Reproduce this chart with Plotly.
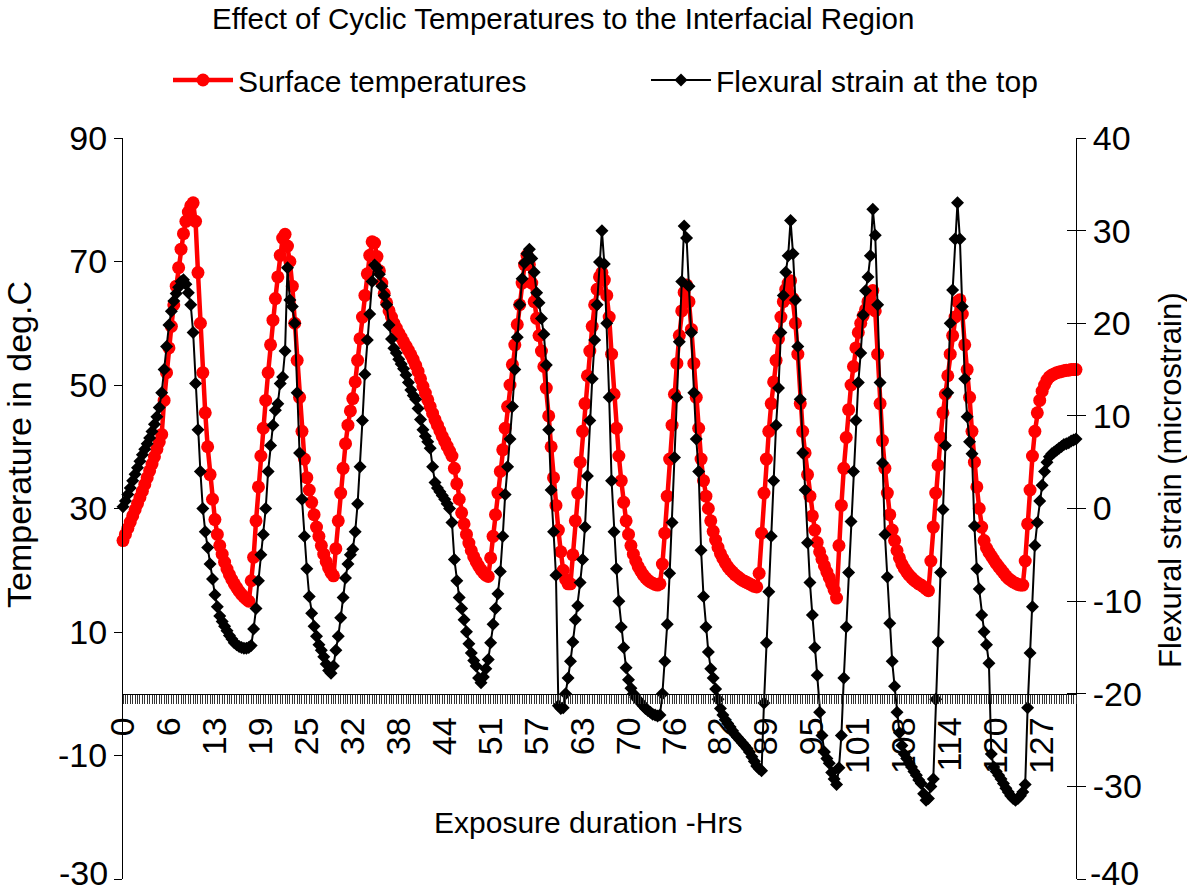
import plotly.graph_objects as go

# Surface temperature (deg C), one reading every 20 minutes
temperature = [
    24.8, 25.8, 26.8, 27.8, 28.8, 29.8, 30.8, 31.8, 32.8, 33.9,
    35.0, 36.1, 37.2, 38.4, 39.6, 40.8, 42.0, 47.5, 52.0, 56.0,
    59.5, 63.0, 66.0, 69.0, 72.0, 74.5, 76.5, 78.0, 79.0, 79.5,
    76.5, 68.2, 60.0, 52.0, 45.5, 40.0, 35.5, 31.5, 28.2, 25.8,
    24.0, 22.6, 21.3, 20.2, 19.3, 18.5, 17.8, 17.2, 16.6, 16.1,
    15.7, 15.3, 15.0, 18.3, 22.1, 28.0, 33.5, 38.5, 43.0, 47.5,
    52.0, 56.5, 60.5, 64.0, 67.5, 71.0, 73.8, 74.4, 72.5, 70.0,
    66.0, 60.0, 54.0, 48.0, 42.5, 38.0, 35.0, 33.0, 31.0, 29.0,
    27.0, 25.5, 24.0, 22.6, 21.4, 20.4, 19.6, 19.1, 23.5, 28.0,
    32.5, 36.5, 40.5, 43.5, 45.8, 47.8, 50.5, 54.0, 57.5, 61.0,
    64.5, 68.0, 71.0, 73.2, 73.0, 70.8, 68.5, 66.5, 64.8, 63.3,
    62.0, 61.0, 60.0, 59.2, 58.4, 57.7, 57.0, 56.3, 55.6, 54.9,
    54.1, 53.2, 52.2, 51.0, 49.8, 48.7, 47.6, 46.5, 45.4, 44.4,
    43.5, 42.6, 41.7, 40.9, 40.1, 39.3, 38.5, 36.5, 34.0, 31.5,
    29.3, 27.5, 25.8, 24.4, 23.2, 22.2, 21.4, 20.7, 20.1, 19.6,
    19.2, 19.0, 22.0, 25.5, 29.0, 32.5, 36.0, 39.5, 43.0, 46.5,
    50.0, 53.3, 56.5, 59.8, 63.0, 66.5, 69.5, 71.0, 69.5, 66.5,
    63.5, 60.8, 58.0, 55.5, 53.0, 49.5, 45.0, 40.0, 35.0, 30.5,
    26.5, 23.0, 20.0, 18.5, 17.8, 17.8, 22.5, 28.0, 32.5, 37.5,
    42.5, 47.0, 51.5, 55.5, 59.5, 63.0, 65.5, 67.5, 68.2, 67.0,
    64.5, 61.0, 55.0, 48.5, 43.0, 38.5, 34.5, 31.0, 28.0, 25.8,
    24.0, 22.6, 21.5, 20.6, 19.9, 19.3, 18.8, 18.4, 18.1, 17.9,
    17.7, 17.6, 17.8, 21.0, 26.0, 32.0, 38.0, 43.5, 48.5, 53.5,
    58.0, 62.0, 65.0, 66.2, 63.5, 59.0, 53.5, 48.0, 43.0, 38.0,
    34.5, 32.0, 30.0, 28.0, 26.3, 24.9, 23.7, 22.7, 21.9, 21.2,
    20.6, 20.1, 19.7, 19.3, 19.0, 18.7, 18.4, 18.2, 18.0, 17.8,
    17.6, 17.4, 17.3, 19.5, 26.0, 32.5, 38.0, 42.5, 47.0, 50.5,
    54.0, 57.5, 61.0, 63.5, 65.5, 66.5, 66.9, 64.0, 60.0, 55.0,
    47.0, 42.5, 39.0, 35.5, 32.0, 28.8, 26.5, 24.5, 23.0, 21.8,
    20.7, 19.7, 18.8, 17.8, 16.8, 15.5, 24.0, 30.5, 36.5, 41.5,
    46.0, 50.0, 53.0, 56.0, 58.5, 60.0, 61.2, 62.2, 63.5, 64.8,
    65.3, 62.0, 55.0, 47.0, 41.0, 36.5, 32.5, 29.0, 26.5, 24.8,
    23.2, 22.0, 21.0, 20.3, 19.7, 19.2, 18.8, 18.4, 18.1, 17.8,
    17.6, 17.3, 17.0, 16.7, 21.5, 27.0, 32.5, 37.0, 41.5, 45.5,
    48.5, 51.5, 55.0, 58.0, 61.0, 63.5, 63.8, 61.5, 56.5, 52.5,
    48.0, 42.5, 37.5, 33.5, 30.0, 27.0, 24.8, 23.6, 22.9, 22.3,
    21.7, 21.1, 20.6, 20.1, 19.6, 19.1, 18.7, 18.4, 18.1, 17.9,
    17.7, 17.6, 17.6, 21.5, 27.5, 33.0, 38.5, 42.5, 45.5, 47.5,
    49.0, 50.0, 50.8, 51.3, 51.6, 51.8, 52.0, 52.1, 52.2, 52.3,
    52.4, 52.4, 52.5, 52.5, 52.5,
]

# Flexural strain at the top (microstrain), same readings
strain = [
    0.2, 0.8, 1.5, 2.2, 3.0, 3.7, 4.4, 5.1, 5.8, 6.4,
    7.0, 7.6, 8.3, 9.1, 9.9, 10.9, 12.5, 15.0, 17.5, 19.8,
    21.3, 22.4, 23.2, 23.9, 24.5, 24.7, 24.2, 23.3, 22.0, 19.0,
    13.5, 8.5, 4.0, 0.0, -2.5, -4.2, -6.0, -7.6, -9.3, -10.6,
    -11.6, -12.2, -12.7, -13.2, -13.7, -14.1, -14.5, -14.7, -14.9, -15.0,
    -15.1, -15.1, -15.0, -14.8, -13.0, -10.8, -7.8, -5.0, -2.8, 0.0,
    4.0, 6.8, 9.0, 10.6, 11.3, 13.5, 14.2, 17.0, 26.0, 22.5,
    21.8, 20.0, 12.5, 6.0, 1.0, -3.0, -6.5, -9.5, -11.3, -12.7,
    -13.8, -14.7, -15.3, -16.0, -16.8, -17.5, -17.8, -17.0, -15.3, -13.8,
    -11.8, -9.6, -7.5, -6.0, -5.0, -4.4, -2.5, 0.5, 4.5, 9.5,
    14.5, 18.2, 21.0, 24.5, 26.3, 26.0, 25.3, 24.0, 23.0, 22.0,
    19.8, 18.3, 17.3, 16.8, 16.1, 15.6, 15.1, 14.4, 13.6, 12.8,
    12.2, 11.8, 10.8, 9.6, 8.5, 7.8, 7.2, 6.5, 4.5, 2.8,
    2.2, 1.8, 1.4, 1.0, 0.5, 0.0, -1.5, -5.5, -7.8, -9.6,
    -10.8, -12.0, -13.3, -14.6, -15.6, -16.4, -17.0, -18.3, -18.8, -18.2,
    -17.3, -16.3, -14.5, -12.5, -10.8, -9.2, -6.8, -3.0, 1.5, 4.5,
    7.5, 11.0, 15.0, 18.5, 22.0, 24.8, 26.5, 27.5, 28.0, 27.0,
    25.5, 23.3, 22.2, 20.5, 18.8, 15.5, 8.5, 2.0, -2.5, -7.2,
    -21.3, -21.6, -21.5, -20.0, -18.3, -16.5, -14.4, -12.0, -10.5, -8.0,
    -5.5, -2.0, 3.5, 9.5, 14.0, 18.2, 22.0, 26.6, 30.0, 26.4,
    20.0, 12.0, 3.0, -2.5, -6.5, -10.0, -12.8, -15.0, -17.2, -18.5,
    -19.4, -20.0, -20.4, -20.7, -21.0, -21.3, -21.6, -21.8, -22.0, -22.2,
    -22.3, -22.4, -22.3, -20.0, -16.5, -12.5, -7.0, -1.5, 5.5, 12.0,
    18.0, 24.5, 30.5, 29.2, 24.0, 19.0, 12.5, 7.5, 4.0, -4.5,
    -9.5, -12.8, -15.5, -17.3, -18.3, -19.5, -20.6, -21.6, -22.3, -22.8,
    -23.2, -23.6, -24.0, -24.4, -24.7, -25.0, -25.3, -25.6, -25.9, -26.3,
    -26.8, -27.3, -27.8, -28.1, -28.3, -21.0, -14.5, -9.0, -3.0, 3.0,
    9.0, 13.0, 19.0, 23.0, 25.5, 27.3, 31.1, 27.5, 22.5, 17.5,
    11.8, 6.0, 2.0, -3.7, -8.0, -11.5, -15.0, -18.0, -22.0, -24.5,
    -26.3, -27.0, -27.5, -28.5, -29.2, -29.8, -28.0, -24.5, -18.3, -12.8,
    -6.9, -1.4, 4.0, 9.5, 13.6, 16.8, 20.9, 23.5, 25.0, 27.3,
    32.3, 29.5, 22.0, 13.6, 4.9, -2.8, -7.4, -12.4, -16.5, -19.2,
    -22.0, -24.2, -25.6, -26.5, -27.0, -27.5, -27.9, -28.4, -28.8, -29.3,
    -29.7, -30.8, -31.5, -31.3, -30.0, -29.2, -20.6, -14.4, -6.9, -0.1,
    6.8, 12.5, 20.0, 23.6, 29.1, 33.0, 29.1, 21.8, 14.0, 9.9,
    7.2, 5.9, -1.9, -6.5, -8.7, -11.5, -13.3, -14.7, -16.7, -26.5,
    -27.9, -28.4, -28.8, -29.2, -29.7, -30.2, -30.6, -31.0, -31.3, -31.5,
    -31.3, -31.0, -30.6, -29.8, -21.5, -15.6, -10.6, -4.0, -1.5, 0.8,
    2.5, 4.0, 5.0, 5.6, 5.9, 6.1, 6.3, 6.5, 6.7, 6.9,
    7.0, 7.1, 7.3, 7.4, 7.5,
]

# Category labels (hours), written on every 19th reading
hour_labels = ["0", "6", "13", "19", "25", "32", "38", "44", "51", "57", "63",
               "70", "76", "82", "89", "95", "101", "108", "114", "120", "127"]
label_step = 19

temp_ticks = [-30, -10, 10, 30, 50, 70, 90]
strain_ticks = [-40, -30, -20, -10, 0, 10, 20, 30, 40]

FONT = "Arial, 'Liberation Sans', sans-serif"
W, H = 1187, 895
L, R, T, B = 123, 111, 138, 16
TICK_SIZE = 34
TEXT_SIZE = 30


def px_x(px):
    return (px - L) / (W - L - R)


def px_y(py):
    return (H - B - py) / (H - T - B)


def axis_text(values):
    # the lowest label sits on the page edge; it is written separately below
    return ["" if v == values[0] else str(v) for v in values]


idx = list(range(len(temperature)))
tick_text = [hour_labels[i // label_step] if i % label_step == 0 else "" for i in idx]

fig = go.Figure()
fig.add_trace(go.Scatter(
    x=idx, y=temperature, name="Surface temperatures", mode="lines+markers",
    line=dict(color="#ff0000", width=4.5),
    marker=dict(symbol="circle", size=13, color="#ff0000"),
    cliponaxis=False, yaxis="y", legend="legend",
))
fig.add_trace(go.Scatter(
    x=idx, y=strain, name="Flexural strain at the top", mode="lines+markers",
    line=dict(color="#000000", width=2),
    marker=dict(symbol="diamond", size=10, color="#000000"),
    cliponaxis=False, yaxis="y2", legend="legend2",
))
# invisible trace so the inner tick axis on the right is drawn
fig.add_trace(go.Scatter(x=[0], y=[0], yaxis="y3", mode="markers",
                         marker=dict(opacity=0), showlegend=False, hoverinfo="skip"))

legend_style = dict(
    orientation="h", xanchor="left", yanchor="middle",
    font=dict(size=TEXT_SIZE), itemwidth=60, bgcolor="rgba(0,0,0,0)",
)

fig.update_layout(
    width=W, height=H,
    margin=dict(l=L, r=R, t=T, b=B, autoexpand=False),
    paper_bgcolor="white", plot_bgcolor="white",
    font=dict(family=FONT, color="black", size=TEXT_SIZE),
    showlegend=True,
    legend=dict(x=px_x(168), y=px_y(80), **legend_style),
    legend2=dict(x=px_x(646), y=px_y(80), **legend_style),
    xaxis=dict(
        range=[0, len(temperature) - 1], tickmode="array", tickvals=idx, ticktext=tick_text,
        tickangle=-90, ticks="outside", ticklen=9, tickwidth=1, tickcolor="#333",
        showline=True, linecolor="black", linewidth=1, automargin=False,
        showgrid=False, zeroline=False, anchor="free", position=0.25,
        tickfont=dict(size=TICK_SIZE),
    ),
    yaxis=dict(
        range=[-30, 90], tickmode="array", tickvals=temp_ticks,
        ticktext=axis_text(temp_ticks),
        ticks="outside", ticklen=8, tickcolor="black", automargin=False,
        showline=True, linecolor="black", linewidth=1,
        showgrid=False, zeroline=False, tickfont=dict(size=TICK_SIZE),
    ),
    yaxis2=dict(
        range=[-40, 40], tickmode="array", tickvals=strain_ticks,
        ticktext=axis_text(strain_ticks),
        overlaying="y", side="right", ticks="outside", ticklen=9, tickcolor="black",
        showline=True, linecolor="black", linewidth=1, automargin=False,
        showgrid=False, zeroline=False, tickfont=dict(size=TICK_SIZE),
    ),
    yaxis3=dict(
        range=[-40, 40], tickmode="array", tickvals=strain_ticks,
        overlaying="y", side="right", ticks="inside", ticklen=9, tickcolor="black",
        showticklabels=False, showline=False, showgrid=False, zeroline=False,
        automargin=False,
    ),
    annotations=[
        dict(text="Effect of Cyclic Temperatures to the Interfacial Region",
             x=px_x(563), y=px_y(18), font=dict(size=29.5)),
        dict(text="Exposure duration -Hrs", x=px_x(588), y=px_y(822)),
        dict(text="Temperature in deg.C", x=px_x(19), y=px_y(445), textangle=-90,
             font=dict(size=34)),
        dict(text="Flexural strain (microstrain)", x=px_x(1170), y=px_y(480), textangle=-90,
             font=dict(size=31)),
        # bottom labels of both value axes, kept inside the page
        dict(text=str(temp_ticks[0]), x=px_x(110), y=px_y(894), xanchor="right",
             yanchor="bottom", font=dict(size=TICK_SIZE)),
        dict(text=str(strain_ticks[0]), x=px_x(1088), y=px_y(894), xanchor="left",
             yanchor="bottom", font=dict(size=TICK_SIZE)),
    ],
)
fig.update_annotations(xref="paper", yref="paper", showarrow=False,
                       selector=lambda a: True)
for ann in fig.layout.annotations:
    if ann.xanchor is None:
        ann.xanchor = "center"
    if ann.yanchor is None:
        ann.yanchor = "middle"

fig.write_html("out.html")
